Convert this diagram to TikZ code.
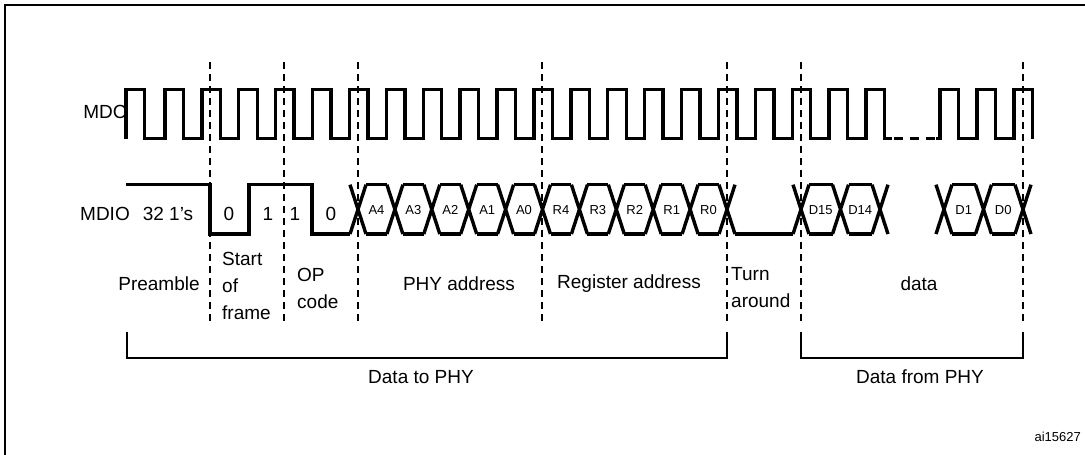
\documentclass[tikz,border=0pt]{standalone}
\usepackage{fontspec}
\setmainfont{Liberation Sans}
\begin{document}
\begin{tikzpicture}[x=1pt,y=-1pt,
  sig/.style={line width=3.4pt,line cap=butt,line join=miter},
  guide/.style={line width=1.4pt,dash pattern=on 7pt off 5pt},
  brk/.style={line width=1.3pt},
  lbl/.style={font=\fontsize{19}{22}\selectfont,inner sep=0pt},
  bus/.style={font=\fontsize{13}{14}\selectfont,inner sep=0pt},
  ml/.style={font=\fontsize{19}{27}\selectfont,inner sep=0pt,align=left,anchor=west}]
\useasboundingbox (0,0) rectangle (1085,455);
\draw[line width=1.5pt] (5,460) -- (5,5) -- (1090,5);
% guides
\foreach \x in {210,284,358,542,727,801,1023} \draw[guide] (\x,62) -- (\x,321);
% MDC
\node[lbl] (mdc) at (105,112) {MDC};
\def\H{89.5}\def\L{138.6}
\draw[sig] (126,\L) -- (126,\H) -- (144.5,\H) -- (144.5,\L)
  \foreach \k in {1,...,20} { -- ({128+\k*36.9},\L) -- ({128+\k*36.9},\H) -- ({146.5+\k*36.9},\H) -- ({146.5+\k*36.9},\L) } -- (892,\L);
\draw[line width=3.4pt,dash pattern=on 9pt off 7pt] (894,\L) -- (936,\L);
\draw[sig] (936,\L) \foreach \r in {940,977,1014} { -- (\r,\L) -- (\r,\H) -- ({\r+18.5},\H) -- ({\r+18.5},\L) };
% MDIO
\node[lbl] (mdio) at (105,214) {MDIO};
\def\T{184.7}\def\B{234}\def\h{8}
\draw[sig] (126,\T) -- (210,\T) -- (210,\B) -- (249,\B) -- (249,\T) -- (312,\T) -- (312,\B) -- (350,\B);
\node[lbl] at (168,214) {32 1's};
\node[lbl] at (229,214) {0};
\node[lbl] at (268,214) {1};
\node[lbl] at (295,214) {1};
\node[lbl] at (331,214) {0};
% X crossings
\foreach \c in {358,394.9,431.8,468.7,505.6,542.5,579.4,616.3,653.2,690.1,727,801,840.5,880,944,983.5,1023}
  \draw[sig] (\c-\h,\T) -- (\c+\h,\B) (\c-\h,\B) -- (\c+\h,\T);
\foreach \a/\b in {358/394.9,394.9/431.8,431.8/468.7,468.7/505.6,505.6/542.5,542.5/579.4,579.4/616.3,616.3/653.2,653.2/690.1,690.1/727,801/840.5,840.5/880,944/983.5,983.5/1023}
  \draw[sig] (\a+\h,\T) -- (\b-\h,\T) (\a+\h,\B) -- (\b-\h,\B);
\draw[sig] (735,\B) -- (793,\B);
\foreach \c/\t in {376.5/A4,413.4/A3,450.3/A2,487.2/A1,524/A0,561/R4,597.9/R3,634.8/R2,671.7/R1,708.5/R0,820.7/D15,860.2/D14,963.7/D1,1003.2/D0}
  \node[bus] at (\c,210) {\t};
% field labels
\node[lbl] at (159,284) {Preamble};
\node[ml] at (222,286) {Start\\of\\frame};
\node[ml] at (297,288) {OP\\code};
\node[lbl] at (459,284) {PHY address};
\node[lbl] at (629,284) {Register address};
\node[ml] at (731,288) {Turn\\around};
\node[lbl] at (919,284) {data};
% brackets
\coordinate (b1l) at (127,332); \coordinate (b1r) at (727,332);
\coordinate (b2l) at (801,332); \coordinate (b2r) at (1023,332);
\draw[brk] (b1l) -- ++(0,26) -| (b1r);
\draw[brk] (b2l) -- ++(0,26) -| (b2r);
\node[lbl] at (421,377) {Data to PHY};
\node[lbl] at (920,377) {Data from PHY};
\node[font=\fontsize{13}{14}\selectfont,inner sep=0pt,anchor=east] at (1081,437) {ai15627};
\end{tikzpicture}
\end{document}
